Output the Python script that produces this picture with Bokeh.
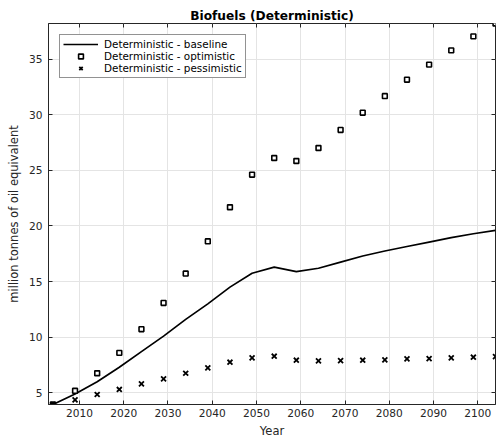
from bokeh.plotting import figure
from bokeh.models import Range1d, FixedTicker, LinearAxis, Legend, LegendItem
from bokeh.embed import file_html
from bokeh.resources import INLINE

# ---- data ----
years = [2004, 2009, 2014, 2019, 2024, 2029, 2034, 2039, 2044, 2049, 2054,
         2059, 2064, 2069, 2074, 2079, 2084, 2089, 2094, 2099, 2104]
baseline = [3.95, 4.9, 6.0, 7.3, 8.7, 10.1, 11.6, 13.0, 14.5, 15.75, 16.3,
            15.9, 16.2, 16.75, 17.3, 17.75, 18.15, 18.55, 18.95, 19.3, 19.6]
optimistic = [3.95, 5.18, 6.76, 8.59, 10.72, 13.08, 15.72, 18.62, 21.68, 24.61, 26.11,
              25.84, 27.01, 28.63, 30.18, 31.68, 33.15, 34.5, 35.78, 37.04, 38.2]
pessimistic = [3.95, 4.37, 4.85, 5.3, 5.81, 6.26, 6.76, 7.25, 7.75, 8.14, 8.29,
               7.93, 7.87, 7.9, 7.93, 7.96, 8.05, 8.08, 8.14, 8.2, 8.26]
x_ticks = [2010, 2020, 2030, 2040, 2050, 2060, 2070, 2080, 2090, 2100]
y_ticks = [5, 10, 15, 20, 25, 30, 35]
series_labels = ["Deterministic - baseline", "Deterministic - optimistic",
                 "Deterministic - pessimistic"]

AX = "#262626"
FONT = "DejaVu Sans"

p = figure(width=497, height=443, output_backend="svg", toolbar_location=None,
           x_range=Range1d(2003, 2104), y_range=Range1d(3.95, 38.2),
           min_border_left=48, min_border_right=2, min_border_top=23,
           min_border_bottom=39)
p.background_fill_color = "white"
p.border_fill_color = "white"
p.outline_line_color = AX
p.outline_line_width = 1

p.title.text = "Biofuels (Deterministic)"
p.title.align = "center"
p.title.text_font = FONT
p.title.text_font_size = "12.2px"
p.title.text_font_style = "bold"
p.title.text_color = "black"
p.title.standoff = 2

def style_axis(ax, ticks):
    ax.ticker = FixedTicker(ticks=ticks)
    ax.axis_line_color = AX
    ax.major_tick_line_color = AX
    ax.major_tick_in = 4
    ax.major_tick_out = 0
    ax.minor_tick_in = 0
    ax.minor_tick_out = 0
    ax.minor_tick_line_color = None
    ax.major_label_text_font = FONT
    ax.major_label_text_font_size = "10.6px"
    ax.major_label_text_color = AX
    ax.axis_label_text_font = FONT
    ax.axis_label_text_font_size = "11.5px"
    ax.axis_label_text_font_style = "normal"
    ax.axis_label_text_color = AX

style_axis(p.xaxis[0], x_ticks)
style_axis(p.yaxis[0], y_ticks)
p.xaxis[0].axis_label = "Year"
p.xaxis[0].major_label_standoff = 4
p.xaxis[0].axis_label_standoff = 4
p.yaxis[0].axis_label = "million tonnes of oil equivalent"
p.yaxis[0].major_label_standoff = 6
p.yaxis[0].axis_label_standoff = 5

# box-style ticks on the top and right edges (no labels)
for loc, ticks in (("above", x_ticks), ("right", y_ticks)):
    ax = LinearAxis()
    style_axis(ax, ticks)
    ax.major_label_text_font_size = "1px"
    ax.major_label_text_color = None
    ax.major_label_standoff = 0
    ax.axis_line_color = None
    p.add_layout(ax, loc)

p.xgrid.ticker = FixedTicker(ticks=x_ticks)
p.ygrid.ticker = FixedTicker(ticks=y_ticks)
p.grid.grid_line_color = "#e4e4e4"
p.grid.grid_line_width = 1

r_line = p.line(years, baseline, line_color="black", line_width=1.7)
r_opt = p.scatter(years, optimistic, marker="square", size=4.8,
                  line_color="black", line_width=1.6, fill_color="white")
r_pes = p.scatter(years, pessimistic, marker="x", size=7,
                  line_color="black", line_width=1.8)

legend = Legend(items=[LegendItem(label=series_labels[0], renderers=[r_line]),
                       LegendItem(label=series_labels[1], renderers=[r_opt]),
                       LegendItem(label=series_labels[2], renderers=[r_pes])],
                location="top_left")
legend.margin = 11
legend.padding = 3
legend.spacing = 0
legend.glyph_width = 35
legend.glyph_height = 12
legend.label_height = 12
legend.label_standoff = 6
legend.label_text_font = FONT
legend.label_text_font_size = "10.4px"
legend.label_text_color = "black"
legend.border_line_color = AX
legend.border_line_width = 1
legend.background_fill_color = "white"
legend.background_fill_alpha = 1
p.add_layout(legend)

open("out.html", "w").write(file_html(p, INLINE))
